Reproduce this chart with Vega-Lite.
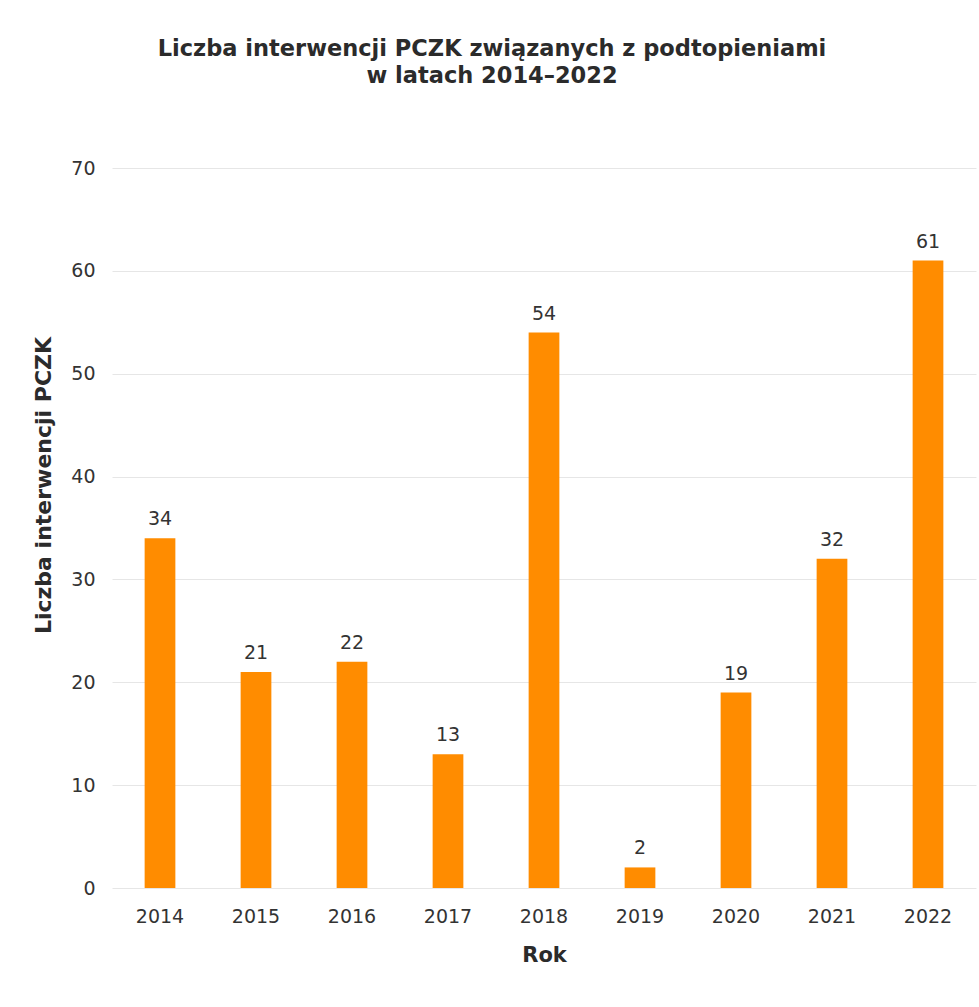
{
  "$schema": "https://vega.github.io/schema/vega-lite/v6.json",
  "autosize": "none",
  "padding": {"left": 112, "top": 168, "right": 3, "bottom": 119},
  "width": 864,
  "height": 720,
  "background": "white",
  "config": {"font": "DejaVu Sans", "view": {"stroke": null}},
  "title": {
    "text": ["Liczba interwencji PCZK związanych z podtopieniami", "w latach 2014–2022"],
    "font": "DejaVu Sans",
    "fontSize": 22.5,
    "fontWeight": "bold",
    "color": "#2b2b2b",
    "lineHeight": 27,
    "anchor": "middle",
    "dx": -52,
    "offset": 72
  },
  "data": {
    "values": [
      {"Rok": "2014", "Wartosc": 34},
      {"Rok": "2015", "Wartosc": 21},
      {"Rok": "2016", "Wartosc": 22},
      {"Rok": "2017", "Wartosc": 13},
      {"Rok": "2018", "Wartosc": 54},
      {"Rok": "2019", "Wartosc": 2},
      {"Rok": "2020", "Wartosc": 19},
      {"Rok": "2021", "Wartosc": 32},
      {"Rok": "2022", "Wartosc": 61}
    ]
  },
  "encoding": {
    "x": {
      "field": "Rok",
      "type": "ordinal",
      "scale": {"paddingInner": 0.68, "paddingOuter": 0.34},
      "axis": {
        "title": "Rok",
        "labelAngle": 0,
        "labelFontSize": 19,
        "labelColor": "#333333",
        "labelPadding": 19,
        "ticks": false,
        "domain": false,
        "titleFontSize": 21,
        "titleFontWeight": "bold",
        "titleColor": "#2b2b2b",
        "titlePadding": 18
      }
    },
    "y": {
      "field": "Wartosc",
      "type": "quantitative",
      "scale": {"domain": [0, 70]},
      "axis": {
        "title": "Liczba interwencji PCZK",
        "values": [0, 10, 20, 30, 40, 50, 60, 70],
        "labelFontSize": 19,
        "labelColor": "#333333",
        "labelPadding": 17,
        "ticks": false,
        "domain": false,
        "gridColor": "#e6e6e6",
        "titleFontSize": 22,
        "titleFontWeight": "bold",
        "titleColor": "#2b2b2b",
        "titlePadding": 15,
        "titleY": 317
      }
    }
  },
  "layer": [
    {"mark": {"type": "bar", "color": "#FF8C00"}},
    {
      "mark": {"type": "text", "baseline": "bottom", "dy": -9, "fontSize": 19, "color": "#333333"},
      "encoding": {"text": {"field": "Wartosc", "type": "quantitative"}}
    }
  ]
}
